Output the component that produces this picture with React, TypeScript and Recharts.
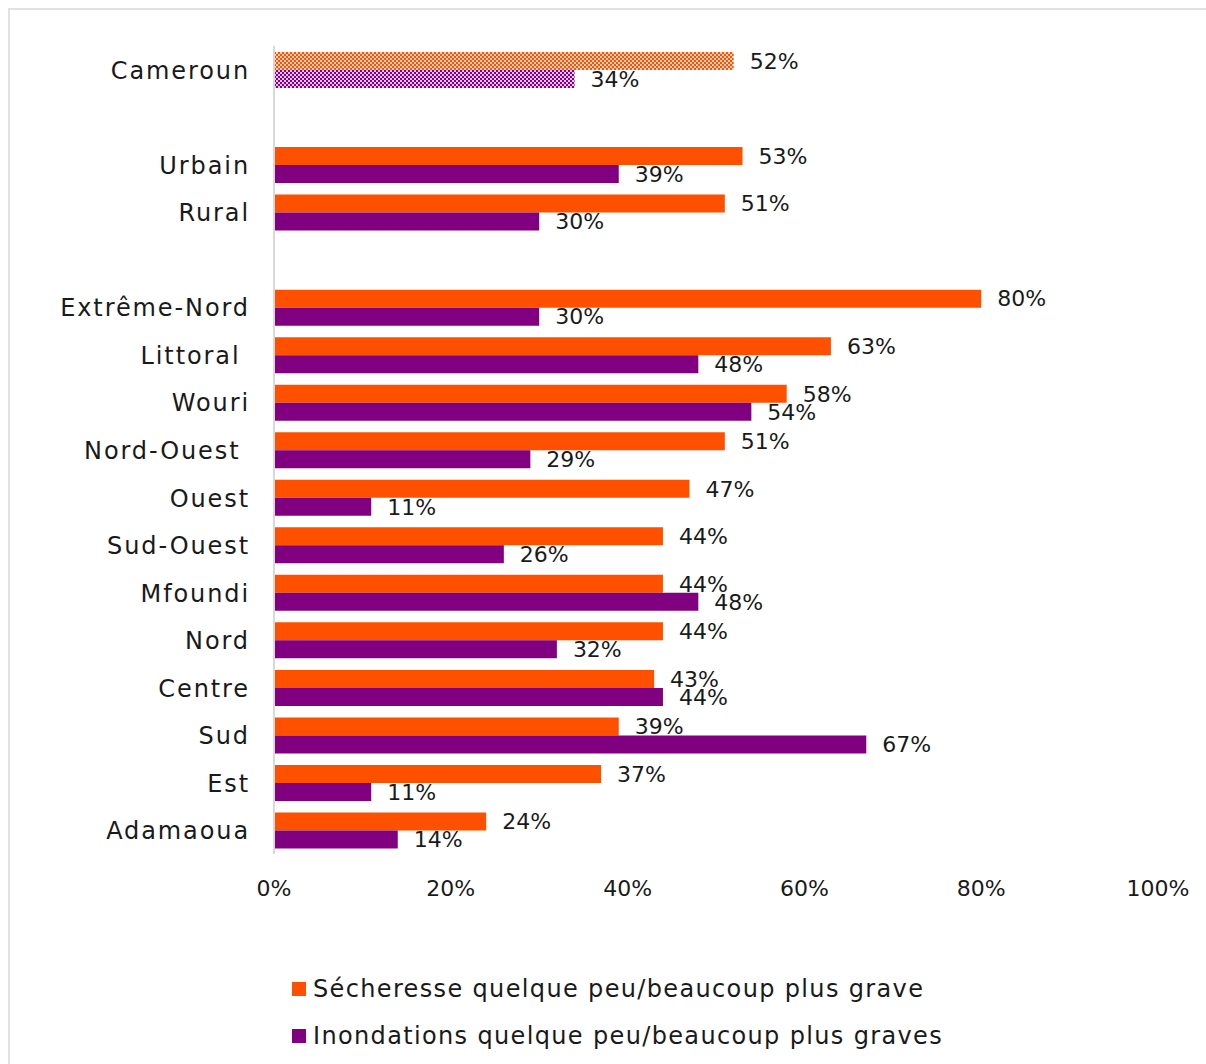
import { Bar, BarChart, Cell, LabelList, XAxis, YAxis } from 'recharts'

const regions = [
  'Cameroun',
  ' ',
  'Urbain',
  'Rural',
  '  ',
  'Extrême-Nord',
  'Littoral ',
  'Wouri',
  'Nord-Ouest ',
  'Ouest',
  'Sud-Ouest',
  'Mfoundi',
  'Nord',
  'Centre',
  'Sud',
  'Est',
  'Adamaoua',
]

const secheresse = [52, null, 53, 51, null, 80, 63, 58, 51, 47, 44, 44, 44, 43, 39, 37, 24]
const inondations = [34, null, 39, 30, null, 30, 48, 54, 29, 11, 26, 48, 32, 44, 67, 11, 14]

const xTicks = [0, 20, 40, 60, 80, 100]

const ORANGE = '#ff5000'
const PURPLE = '#800080'
const FONT = '"DejaVu Sans", sans-serif'

const data = regions.map((name, i) => ({
  name,
  secheresse: secheresse[i],
  inondations: inondations[i],
}))

function CategoryTick({ x, y, payload }: any) {
  return (
    <text
      x={x - 16}
      y={y}
      dy={9}
      textAnchor="end"
      fontFamily={FONT}
      fontSize={24}
      letterSpacing={1.9}
      fill="#1a1a1a"
      style={{ whiteSpace: 'pre' }}
    >
      {payload.value}
    </text>
  )
}

function PercentTick({ x, y, payload }: any) {
  return (
    <text x={x} y={y} dy={34} textAnchor="middle" fontFamily={FONT} fontSize={22} fill="#1a1a1a">
      {payload.value}%
    </text>
  )
}

function Legend() {
  const items = [
    { label: 'Sécheresse quelque peu/beaucoup plus grave', color: ORANGE },
    { label: 'Inondations quelque peu/beaucoup plus graves', color: PURPLE },
  ]
  return (
    <div style={{ position: 'absolute', left: 282, top: 955 }}>
      {items.map((it) => (
        <div key={it.label} style={{ display: 'flex', alignItems: 'center', height: 47 }}>
          <span style={{ width: 14, height: 14, background: it.color, marginRight: 7 }} />
          <span style={{ fontFamily: FONT, fontSize: 24, letterSpacing: 1.35, color: '#1a1a1a' }}>{it.label}</span>
        </div>
      ))}
    </div>
  )
}

export default function App() {
  return (
    <div
      style={{
        position: 'absolute',
        left: 8,
        top: 8,
        width: 1198,
        height: 1056,
        boxSizing: 'border-box',
        borderLeft: '2px solid #e2e2e2',
        borderTop: '2px solid #e2e2e2',
        overflow: 'hidden',
      }}
    >
      <BarChart
        width={1196}
        height={1054}
        data={data}
        layout="vertical"
        margin={{ top: 36, right: 48, bottom: 180, left: 0 }}
        barCategoryGap={6}
        barGap={0}
      >
        <defs>
          <pattern id="patOrange" width="4" height="4" patternUnits="userSpaceOnUse">
            <rect width="4" height="4" fill={ORANGE} />
            <rect x="0" y="0" width="2" height="2" fill="#ffd2bd" />
            <rect x="2" y="2" width="2" height="2" fill="#ffd2bd" />
          </pattern>
          <pattern id="patPurple" width="4" height="4" patternUnits="userSpaceOnUse">
            <rect width="4" height="4" fill={PURPLE} />
            <rect x="0" y="0" width="2" height="2" fill="#e8c2e8" />
            <rect x="2" y="2" width="2" height="2" fill="#e8c2e8" />
          </pattern>
        </defs>
        <XAxis
          type="number"
          domain={[0, 100]}
          ticks={xTicks}
          axisLine={false}
          tickLine={false}
          tick={<PercentTick />}
          interval={0}
        />
        <YAxis
          type="category"
          dataKey="name"
          width={264}
          axisLine={{ stroke: '#d9d9d9', strokeWidth: 2 }}
          tickLine={false}
          tick={<CategoryTick />}
          interval={0}
        />
        <Bar dataKey="secheresse" fill={ORANGE} isAnimationActive={false}>
          {data.map((d, i) => (
            <Cell key={d.name} fill={i === 0 ? 'url(#patOrange)' : ORANGE} />
          ))}
          <LabelList
            dataKey="secheresse"
            position="right"
            offset={16}
            formatter={(v: any) => (v == null ? '' : `${v}%`)}
            fill="#1a1a1a"
            fontSize={22}
            fontFamily={FONT}
          />
        </Bar>
        <Bar dataKey="inondations" fill={PURPLE} isAnimationActive={false}>
          {data.map((d, i) => (
            <Cell key={d.name} fill={i === 0 ? 'url(#patPurple)' : PURPLE} />
          ))}
          <LabelList
            dataKey="inondations"
            position="right"
            offset={16}
            formatter={(v: any) => (v == null ? '' : `${v}%`)}
            fill="#1a1a1a"
            fontSize={22}
            fontFamily={FONT}
          />
        </Bar>
      </BarChart>
      <Legend />
    </div>
  )
}
